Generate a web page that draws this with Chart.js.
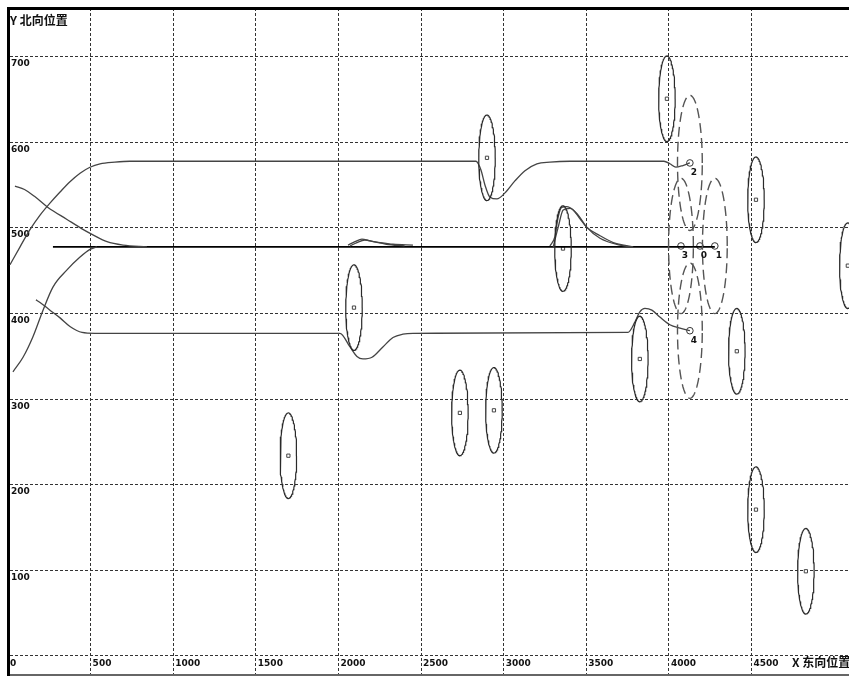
<!DOCTYPE html>
<html>
<head>
<meta charset="utf-8">
<script src="https://cdn.jsdelivr.net/npm/chart.js@4.4.1/dist/chart.umd.min.js"></script>
<style>
  html, body { margin: 0; padding: 0; background: #fff; overflow: hidden; }
  canvas { display: block; }
</style>
</head>
<body>
<canvas id="c" width="849" height="677"></canvas>
<script>
// Axis ticks and titles
const xTicks = [0, 500, 1000, 1500, 2000, 2500, 3000, 3500, 4000, 4500];
const yTicks = [0, 100, 200, 300, 400, 500, 600, 700];
const xTitle = 'X 东向位置';
const yTitle = 'Y 北向位置';

// Measured plots: centre position and error radius
const plotX = [3988, 2899, 4527, 5083, 3359, 2094, 3824, 4411, 2735, 2941, 1697, 4527, 4829];
const plotY = [651, 582, 533, 456, 476, 407, 347, 356, 284, 287, 234, 171, 99];
const plotRadiusX = 50;
const plotRadiusY = 50;

// Association gates around the predicted track ends
const gateX = [4127, 4073, 4278, 4127];
const gateY = [576, 479, 479, 380];
const gateRadiusX = 75;
const gateRadiusY = 79;

// Track 2 (northern track)
const track2X = [12, 73, 133, 194, 254, 315, 375, 436, 496, 557, 647, 738, 2832, 2862, 2887, 2917, 2959, 3008, 3068, 3129, 3201, 3280, 3401, 3970, 4006, 4042, 4085, 4127];
const track2Y = [457, 478, 498, 515, 529, 542, 554, 564, 571, 575, 577, 578, 578, 568, 550, 536, 534, 541, 555, 567, 575, 577, 578, 578, 575, 571, 573, 576];

// Track 3 (joins the main track from the north-west)
const track3X = [42, 100, 160, 242, 357, 448, 514, 599, 696, 841];
const track3Y = [549, 545, 537, 524, 510, 499, 492, 484, 480, 478];

// Track 0 (joins the main track from the south-west)
const track0X = [30, 91, 151, 212, 272, 357, 436, 496, 539];
const track0Y = [332, 349, 373, 404, 431, 451, 466, 475, 478];

// Track 1 (main straight track)
const track1X = [272, 4278];
const track1Y = [478, 478];

// Track 4 (southern track)
const track4X = [169, 194, 254, 315, 375, 448, 526, 2009, 2070, 2112, 2148, 2203, 2269, 2330, 2390, 2451, 3752, 3794, 3824, 3855, 3897, 3945, 4006, 4067, 4127];
const track4Y = [416, 413, 404, 395, 385, 378, 377, 377, 361, 350, 347, 349, 361, 372, 376, 377, 378, 390, 402, 406, 404, 396, 387, 383, 380];

// Small deviations along the main track
const wobbleAX = [2058, 2100, 2142, 2191, 2251, 2330, 2451];
const wobbleAY = [480, 484, 487, 485, 483, 481, 480];
const wobbleBX = [2070, 2112, 2160, 2210, 2290, 2400];
const wobbleBY = [479, 483, 486, 484, 481, 479];
const wobbleCX = [3280, 3310, 3330, 3351, 3381, 3421, 3461, 3502, 3583, 3663, 3784];
const wobbleCY = [479, 490, 513, 524, 525, 521, 511, 501, 491, 483, 478];
const wobbleDX = [3300, 3330, 3360, 3401, 3451, 3502, 3583, 3703, 3764];
const wobbleDY = [478, 501, 521, 523, 515, 501, 488, 480, 478];

// Track end points and their numbers
const trackEndIds = ['2', '3', '0', '1', '4'];
const trackEndX = [4127, 4073, 4188, 4278, 4127];
const trackEndY = [576, 479, 479, 479, 380];

const zip = (xs, ys) => xs.map((x, i) => ({ x, y: ys[i] }));

function ellipseOutline(cx, cy, rx, ry) {
  const pts = [];
  const n = 96;
  for (let i = 0; i <= n; i++) {
    const t = (2 * Math.PI * i) / n;
    pts.push({ x: cx + rx * Math.cos(t), y: cy + ry * Math.sin(t) });
  }
  return pts;
}

const datasets = [];

plotX.forEach((cx, i) => {
  datasets.push({
    data: ellipseOutline(cx, plotY[i], plotRadiusX, plotRadiusY),
    showLine: true, pointRadius: 0, borderColor: '#2a2a2a', borderWidth: 1.2, tension: 0
  });
});

gateX.forEach((cx, i) => {
  datasets.push({
    data: ellipseOutline(cx, gateY[i], gateRadiusX, gateRadiusY),
    showLine: true, pointRadius: 0, borderColor: '#555', borderWidth: 1.4,
    borderDash: [10, 5], tension: 0
  });
});

const trackStyle = {
  showLine: true, pointRadius: 0, borderColor: '#444', borderWidth: 1.3,
  tension: 0.4, cubicInterpolationMode: 'monotone'
};
[[track2X, track2Y], [track3X, track3Y], [track0X, track0Y], [track4X, track4Y],
 [wobbleAX, wobbleAY], [wobbleBX, wobbleBY], [wobbleCX, wobbleCY], [wobbleDX, wobbleDY]]
  .forEach(([xs, ys]) => datasets.push(Object.assign({ data: zip(xs, ys) }, trackStyle)));

datasets.push({
  data: zip(track1X, track1Y), showLine: true, pointRadius: 0,
  borderColor: '#000', borderWidth: 1.6, tension: 0
});

// plot centre markers
datasets.push({
  data: zip(plotX, plotY), showLine: false, pointStyle: 'rect',
  pointRadius: 2.3, borderColor: '#444', borderWidth: 1, backgroundColor: '#fff'
});

// track end markers
datasets.push({
  data: zip(trackEndX, trackEndY), showLine: false, pointStyle: 'circle',
  pointRadius: 3.3, borderColor: '#333', borderWidth: 1, backgroundColor: '#fff'
});

const tickFont = { family: 'DejaVu Sans', size: 9, weight: 'bold' };

const textPlugin = {
  id: 'annotText',
  afterDatasetsDraw(chart) {
    const { ctx, scales: { x, y }, chartArea } = chart;
    ctx.save();
    ctx.fillStyle = '#111';
    ctx.textAlign = 'center';
    ctx.textBaseline = 'middle';
    ctx.font = 'bold 9px "DejaVu Sans"';
    trackEndIds.forEach((id, i) => {
      ctx.fillText(id, x.getPixelForValue(trackEndX[i]) + 4, y.getPixelForValue(trackEndY[i]) + 10);
    });
    ctx.textAlign = 'left';
    ctx.font = 'bold 12px "Noto Sans CJK SC"';
    ctx.fillText(yTitle, chartArea.left + 2, chartArea.top + 12);
    ctx.fillText(xTitle, 792, chartArea.bottom - 13);
    ctx.restore();
  }
};

const xMin = 0, xMax = 5090;
const yMin = -22.2, yMax = 757;

new Chart(document.getElementById('c'), {
  type: 'scatter',
  data: { datasets },
  options: {
    responsive: false,
    animation: false,
    devicePixelRatio: 1,
    layout: { autoPadding: false, padding: { left: 8, top: 8, right: 0, bottom: 0 } },
    plugins: { legend: { display: false }, tooltip: { enabled: false } },
    scales: {
      x: {
        type: 'linear', position: 'bottom', min: xMin, max: xMax,
        afterBuildTicks: s => { s.ticks = xTicks.map(v => ({ value: v })); },
        afterFit: s => { s.height = 2; s.paddingLeft = s.paddingRight = s.paddingTop = s.paddingBottom = 0; },
        ticks: {
          mirror: true, align: 'start', padding: 6, labelOffset: 2,
          autoSkip: false, maxRotation: 0, font: tickFont, color: '#111',
          callback: v => String(v)
        },
        grid: { color: '#333', lineWidth: 1, drawTicks: false },
        border: { display: true, color: '#666', width: 2, dash: [3, 2] }
      },
      x2: {
        type: 'linear', position: 'top', display: true, min: xMin, max: xMax,
        afterFit: s => { s.height = 0; s.paddingLeft = s.paddingRight = s.paddingTop = s.paddingBottom = 0; },
        ticks: { display: false },
        grid: { display: false, drawTicks: false },
        border: { display: true, color: '#000', width: 3 }
      },
      y: {
        type: 'linear', position: 'left', min: yMin, max: yMax,
        afterBuildTicks: s => { s.ticks = yTicks.map(v => ({ value: v })); },
        afterFit: s => { s.width = 0; s.paddingLeft = s.paddingRight = s.paddingTop = s.paddingBottom = 0; },
        ticks: {
          mirror: true, padding: 3, labelOffset: 7, font: tickFont, color: '#111',
          callback: v => (v === 0 ? '' : String(v))
        },
        grid: { color: '#333', lineWidth: 1, drawTicks: false },
        border: { display: true, color: '#000', width: 3, dash: [3, 2] }
      }
    }
  },
  plugins: [textPlugin]
});
</script>
</body>
</html>
